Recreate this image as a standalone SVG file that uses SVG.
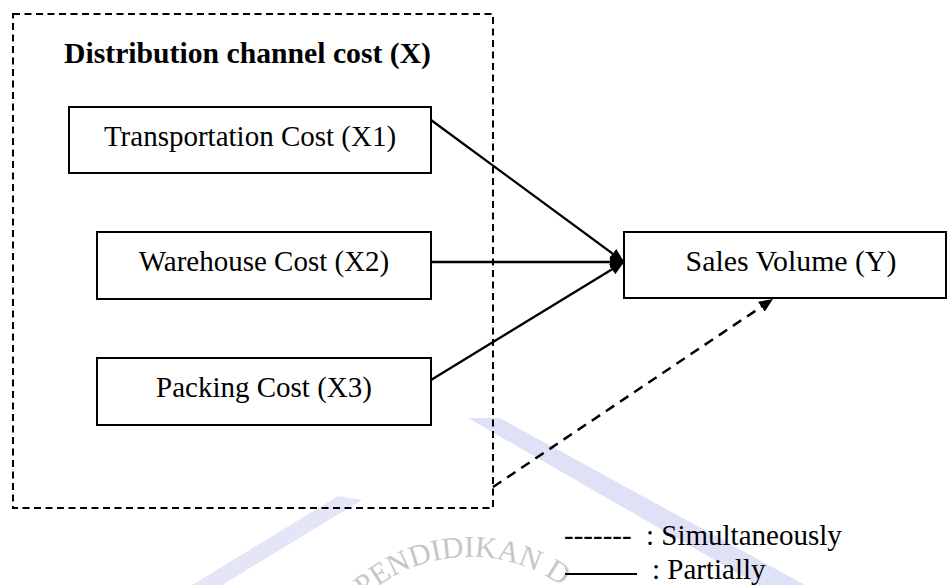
<svg xmlns="http://www.w3.org/2000/svg" width="947" height="585" viewBox="0 0 947 585">
<style>
.box{fill:#fff;stroke:#000;stroke-width:2}
.lbl{font-family:"Liberation Serif","Times New Roman",serif;font-size:29px;fill:#000}
.ttl{font-family:"Liberation Serif","Times New Roman",serif;font-size:29.7px;font-weight:bold;fill:#000}
.conn{stroke:#000;stroke-width:2.3;fill:none}
.dash{stroke-dasharray:10 7;stroke-width:2.5}
.wm{font-family:"Liberation Serif",serif;font-size:30px;fill:#c6c6c6}
</style>
<defs>
<marker id="ah" viewBox="0 0 14 12" refX="14" refY="6" markerWidth="14" markerHeight="12" markerUnits="userSpaceOnUse" orient="auto">
<path d="M0,0 L14,6 L0,12 z" fill="#000"/>
</marker>
<path id="arc" d="M333,636 A158,158 0 0 1 607,636"/>
</defs>
<rect width="947" height="585" fill="#fff"/>
<g id="watermark">
<path d="M468,418 L500,418 L805,585 L758,585 Z" fill="#dfe2f7"/>
<path d="M338,496 L362,500 L222,585 L192,585 Z" fill="#e4e6f8"/>
<text class="wm"><textPath href="#arc" startOffset="50">PENDIDIKAN D</textPath></text>
</g>
<g id="group-x">
<rect x="13" y="14" width="480" height="494" fill="none" stroke="#000" stroke-width="2" stroke-dasharray="7 4.5"/>
<text class="ttl" x="64" y="63">Distribution channel cost (X)</text>
</g>
<g id="x1">
<rect class="box" x="69" y="107" width="362" height="66"/>
<text class="lbl" x="250" y="146" text-anchor="middle">Transportation Cost (X1)</text>
</g>
<g id="x2">
<rect class="box" x="97" y="232" width="334" height="67"/>
<text class="lbl" x="264" y="271" text-anchor="middle">Warehouse Cost (X2)</text>
</g>
<g id="x3">
<rect class="box" x="97" y="358" width="334" height="67"/>
<text class="lbl" x="264" y="397" text-anchor="middle">Packing Cost (X3)</text>
</g>
<g id="y">
<rect class="box" x="624" y="232" width="322" height="66"/>
<text class="lbl" x="791" y="271" text-anchor="middle" style="font-size:29.8px">Sales Volume (Y)</text>
</g>
<g id="connectors">
<line class="conn" x1="431" y1="120" x2="624" y2="262" marker-end="url(#ah)"/>
<line class="conn" x1="431" y1="262" x2="624" y2="262" marker-end="url(#ah)"/>
<line class="conn" x1="431" y1="380" x2="624" y2="262" marker-end="url(#ah)"/>
<line class="conn dash" x1="493" y1="487" x2="773" y2="299" marker-end="url(#ah)"/>
</g>
<g id="legend">
<text class="lbl" x="564" y="545">-------</text>
<text class="lbl" x="646" y="545">: Simultaneously</text>
<line x1="565" y1="574" x2="637" y2="574" stroke="#000" stroke-width="2"/>
<text class="lbl" x="652" y="579">: Partially</text>
</g>
</svg>
